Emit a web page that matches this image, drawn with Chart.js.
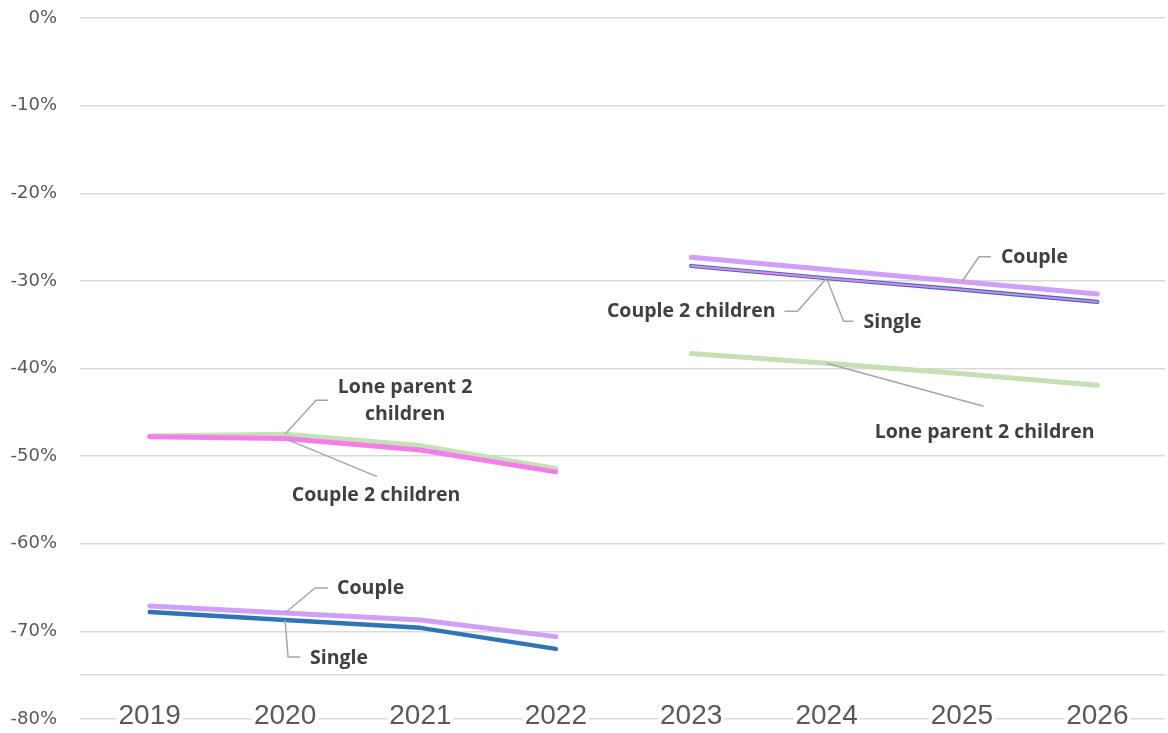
<!DOCTYPE html>
<html>
<head>
<meta charset="utf-8">
<script src="https://cdn.jsdelivr.net/npm/chart.js@4"></script>
<style>
  html, body { margin: 0; padding: 0; background: #ffffff; }
  #wrap { width: 1168px; height: 733px; position: relative; }
</style>
</head>
<body>
<div id="wrap"><canvas id="c"></canvas></div>
<script>
// Categories and tick values
const years = ['2019', '2020', '2021', '2022', '2023', '2024', '2025', '2026'];
const yTickValues = [0, -10, -20, -30, -40, -50, -60, -70, -75, -80];
const yLabelledTicks = [0, -10, -20, -30, -40, -50, -60, -70, -80];

// Series values (%), 2019-2022 outturn
const singleHist   = [-67.8, -68.7, -69.6, -72.0, null, null, null, null];
const coupleHist   = [-67.1, -67.9, -68.7, -70.6, null, null, null, null];
const couple2cHist = [-47.8, -48.0, -49.3, -51.8, null, null, null, null];
const loneHist     = [-47.7, -47.5, -48.8, -51.4, null, null, null, null];

// Series values (%), 2023-2026
const singleProj   = [null, null, null, null, -28.3, -29.7, -31.0, -32.4];
const coupleProj   = [null, null, null, null, -27.3, -28.7, -30.1, -31.5];
const couple2cProj = [null, null, null, null, -28.3, -29.7, -31.0, -32.4];
const loneProj     = [null, null, null, null, -38.3, -39.4, -40.6, -41.9];

const series = { singleHist, coupleHist, couple2cHist, loneHist, singleProj, coupleProj, couple2cProj, loneProj };

const COL_SINGLE = '#2E75B6';
const COL_COUPLE = '#D0A0F8';
const COL_C2C = '#F57DEB';
const COL_LONE = '#C5E0B4';

// Callout labels: anchored to a series point, leader path given as pixel offsets
const callouts = [
  { series: 'loneHist', at: 1, path: [[31, -34], [43, -34]], lines: ['Lone parent 2', 'children'], tx: 120, ty: [-47, -20], align: 'center' },
  { series: 'couple2cHist', at: 1, path: [[92, 38]], lines: ['Couple 2 children'], tx: 91, ty: [57], align: 'center' },
  { series: 'coupleHist', at: 1, path: [[30, -25], [43, -25]], lines: ['Couple'], tx: 52, ty: [-25], align: 'left' },
  { series: 'singleHist', at: 1, path: [[3, 37], [15, 37]], lines: ['Single'], tx: 25, ty: [38], align: 'left' },
  { series: 'coupleProj', at: 6, path: [[17, -25], [29, -25]], lines: ['Couple'], tx: 39, ty: [-24], align: 'left' },
  { series: 'couple2cProj', at: 5, path: [[-29, 33], [-42, 33]], lines: ['Couple 2 children'], tx: -51, ty: [33], align: 'right' },
  { series: 'singleProj', at: 5, path: [[17, 43], [27, 43]], lines: ['Single'], tx: 37, ty: [44], align: 'left' },
  { series: 'loneProj', at: 5, path: [[157, 43]], lines: ['Lone parent 2 children'], tx: 158, ty: [69], align: 'center' }
];

const calloutPlugin = {
  id: 'callouts',
  afterDatasetsDraw(chart) {
    const ctx = chart.ctx;
    const xs = chart.scales.x, ys = chart.scales.y;
    ctx.save();
    callouts.forEach(c => {
      const vals = series[c.series];
      const ax = xs.getPixelForValue(c.at);
      const ay = ys.getPixelForValue(vals[c.at]);
      ctx.beginPath();
      ctx.moveTo(ax, ay);
      c.path.forEach(([dx, dy]) => ctx.lineTo(ax + dx, ay + dy));
      ctx.strokeStyle = '#A6A6A6';
      ctx.lineWidth = 1.5;
      ctx.stroke();
      ctx.fillStyle = '#404040';
      ctx.font = 'bold 19.5px "Open Sans", "DejaVu Sans", sans-serif';
      ctx.textAlign = c.align;
      ctx.textBaseline = 'middle';
      c.lines.forEach((t, i) => ctx.fillText(t, ax + c.tx, ay + c.ty[i]));
    });
    ctx.restore();
  }
};

function line(data, color, width) {
  return {
    data, borderColor: color, backgroundColor: color, borderWidth: width,
    pointRadius: 0, pointHoverRadius: 0, tension: 0, spanGaps: false,
    borderCapStyle: 'round', borderJoinStyle: 'round', fill: false
  };
}

new Chart(document.getElementById('c'), {
  type: 'line',
  data: {
    labels: years,
    // listed top-most first (Chart.js paints the first dataset last)
    datasets: [
      line(couple2cProj, COL_C2C, 1.8),
      line(singleProj, COL_SINGLE, 4.2),
      line(coupleProj, COL_COUPLE, 5),
      line(loneProj, COL_LONE, 5),
      line(coupleHist, COL_COUPLE, 5),
      line(singleHist, COL_SINGLE, 4.5),
      line(couple2cHist, COL_C2C, 5),
      line(loneHist, COL_LONE, 5)
    ]
  },
  options: {
    responsive: true,
    maintainAspectRatio: false,
    animation: false,
    layout: { padding: { top: 18, right: 3, bottom: 0, left: 0 } },
    plugins: { legend: { display: false }, tooltip: { enabled: false } },
    scales: {
      x: {
        offset: true,
        grid: { display: false, drawTicks: false },
        border: { display: false },
        afterFit(scale) { scale.height = 14; },
        ticks: {
          mirror: true,
          padding: -14,
          color: '#595959',
          font: { family: '"Liberation Sans", Arial, sans-serif', size: 28 },
          maxRotation: 0,
          autoSkip: false,
          z: 1,
          showLabelBackdrop: true,
          backdropColor: '#ffffff',
          backdropPadding: { left: 2, right: 2, top: 0, bottom: 0 }
        }
      },
      y: {
        min: -80,
        max: 0,
        afterFit(scale) { scale.width = 82; scale.paddingTop = 0; scale.paddingBottom = 0; },
        afterBuildTicks(scale) { scale.ticks = yTickValues.map(v => ({ value: v })); },
        grid: { color: '#D9D9D9', lineWidth: 1.5, drawTicks: true, tickLength: 2 },
        border: { display: false },
        ticks: {
          padding: 23,
          color: '#595959',
          font: { family: '"DejaVu Sans", Verdana, sans-serif', size: 18 },
          callback: v => yLabelledTicks.includes(v) ? v + '%' : ''
        }
      }
    }
  },
  plugins: [calloutPlugin]
});
</script>
</body>
</html>
